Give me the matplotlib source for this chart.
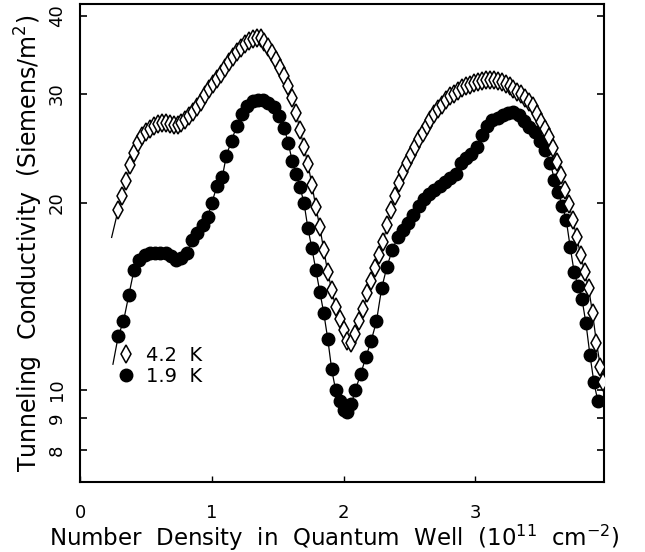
import matplotlib
matplotlib.use("Agg")
import matplotlib.pyplot as plt
from matplotlib.lines import Line2D
from matplotlib.ticker import FixedLocator, FixedFormatter, NullLocator

# ---- data: 4.2 K (open diamonds) ----
x_42 = [0.24, 0.29, 0.32, 0.35, 0.38, 0.41, 0.44, 0.47, 0.50, 0.53, 0.56, 0.59, 0.62, 0.65,
        0.68, 0.71, 0.74, 0.77, 0.80, 0.83, 0.86, 0.89, 0.92, 0.95, 0.98, 1.01, 1.04, 1.07,
        1.10, 1.13, 1.16, 1.19, 1.22, 1.25, 1.28, 1.31, 1.34, 1.37, 1.40, 1.43, 1.46, 1.49,
        1.52, 1.55, 1.58, 1.61, 1.64, 1.67, 1.70, 1.73, 1.76, 1.79, 1.82, 1.85, 1.88, 1.91,
        1.94, 1.97, 2.00, 2.03, 2.06, 2.09, 2.12, 2.15, 2.18, 2.21, 2.24, 2.27, 2.30, 2.33,
        2.36, 2.39, 2.42, 2.45, 2.48, 2.51, 2.54, 2.57, 2.60, 2.63, 2.66, 2.69, 2.72, 2.75,
        2.78, 2.81, 2.84, 2.87, 2.90, 2.93, 2.96, 2.99, 3.02, 3.05, 3.08, 3.11, 3.14, 3.17,
        3.20, 3.23, 3.26, 3.29, 3.32, 3.35, 3.38, 3.41, 3.44, 3.47, 3.50, 3.53, 3.56, 3.59,
        3.62, 3.65, 3.68, 3.71, 3.74, 3.77, 3.80, 3.83, 3.86, 3.89, 3.92, 3.95, 3.97]
y_42 = [17.6, 19.5, 20.5, 21.7, 23.0, 24.1, 25.0, 25.6, 26.0, 26.3, 26.6, 26.8, 26.9, 26.9,
        26.8, 26.7, 26.7, 26.9, 27.2, 27.6, 28.0, 28.5, 29.1, 29.8, 30.5, 31.1, 31.6, 32.2,
        33.0, 33.7, 34.4, 35.0, 35.5, 36.0, 36.4, 36.7, 36.9, 36.8, 36.3, 35.6, 34.8, 34.0,
        33.0, 32.0, 30.9, 29.5, 27.9, 26.2, 24.6, 23.1, 21.4, 19.7, 18.3, 16.8, 15.5, 14.5,
        13.6, 13.0, 12.5, 12.0, 11.9, 12.3, 12.9, 13.5, 14.3, 15.0, 15.7, 16.5, 17.3, 18.4,
        19.5, 20.5, 21.5, 22.4, 23.2, 23.9, 24.6, 25.3, 25.9, 26.6, 27.2, 27.8, 28.3, 28.8,
        29.3, 29.7, 30.0, 30.3, 30.6, 30.8, 31.0, 31.2, 31.3, 31.4, 31.5, 31.5, 31.5, 31.4,
        31.3, 31.1, 30.9, 30.5, 30.2, 29.9, 29.5, 29.1, 28.6, 27.8, 27.0, 26.3, 25.5, 24.5,
        23.3, 22.2, 21.0, 19.9, 18.8, 17.6, 16.5, 15.5, 14.6, 13.3, 11.9, 10.9, 10.3]

# ---- data: 1.9 K (filled circles) ----
x_19 = [0.25, 0.29, 0.33, 0.37, 0.41, 0.45, 0.49, 0.53, 0.57, 0.61, 0.65, 0.69, 0.73, 0.77,
        0.81, 0.85, 0.89, 0.93, 0.97, 1.00, 1.04, 1.08, 1.11, 1.15, 1.19, 1.23, 1.27, 1.31,
        1.35, 1.39, 1.43, 1.47, 1.51, 1.55, 1.58, 1.61, 1.64, 1.67, 1.70, 1.73, 1.76, 1.79,
        1.82, 1.85, 1.88, 1.91, 1.94, 1.97, 2.00, 2.03, 2.06, 2.09, 2.13, 2.17, 2.21, 2.25,
        2.29, 2.33, 2.37, 2.41, 2.45, 2.49, 2.53, 2.57, 2.61, 2.65, 2.69, 2.73, 2.77, 2.81,
        2.85, 2.89, 2.93, 2.97, 3.01, 3.05, 3.09, 3.13, 3.17, 3.21, 3.25, 3.29, 3.33, 3.37,
        3.41, 3.45, 3.49, 3.53, 3.57, 3.60, 3.63, 3.66, 3.69, 3.72, 3.75, 3.78, 3.81, 3.84,
        3.87, 3.90, 3.93]
y_19 = [11.0, 12.2, 12.9, 14.2, 15.6, 16.2, 16.5, 16.6, 16.6, 16.6, 16.6, 16.4, 16.2, 16.3,
        16.6, 17.4, 17.9, 18.4, 19.0, 20.0, 21.3, 22.0, 23.8, 25.2, 26.6, 27.8, 28.6, 29.2,
        29.3, 29.3, 29.0, 28.5, 27.6, 26.4, 25.0, 23.4, 22.3, 21.2, 20.0, 18.2, 16.9, 15.6,
        14.4, 13.3, 12.1, 10.8, 10.0, 9.6, 9.3, 9.2, 9.5, 10.0, 10.6, 11.3, 12.0, 12.9,
        14.6, 15.8, 16.8, 17.6, 18.1, 18.6, 19.1, 19.8, 20.3, 20.7, 21.0, 21.3, 21.6, 21.9,
        22.3, 23.2, 23.6, 24.0, 24.6, 25.7, 26.6, 27.2, 27.4, 27.7, 27.9, 28.0, 27.7, 27.1,
        26.5, 26.0, 25.2, 24.3, 23.2, 21.8, 20.8, 19.8, 18.8, 17.0, 15.5, 14.7, 14.0, 12.8,
        11.4, 10.3, 9.6]

series_labels = ["4.2  K", "1.9  K"]
y_ticks = [8, 9, 10, 20, 30, 40]
y_tick_labels = ["8", "9", "10", "20", "30", "40"]
x_ticks = [0, 1, 2, 3, 4]
x_tick_labels = ["0", "1", "2", "3", "4"]

plt.rcParams['font.family'] = ['DejaVu Sans']

fig = plt.figure(figsize=(6.45, 5.52), dpi=100)
ax = fig.add_axes([80 / 645, 1 - 482 / 552, 524 / 645, 478 / 552])

ax.plot(x_42, y_42, color='black', lw=0.9, marker='d', ms=9, mfc='white',
        mec='black', mew=1.1, markevery=slice(1, None), zorder=3)
ax.plot(x_19, y_19, color='black', lw=0.9, marker='o', ms=9, mfc='black',
        mec='black', markevery=slice(1, None), zorder=2)

ax.set_yscale('log')
ax.set_xlim(0, 3.977)
ax.set_ylim(7.11, 41.8)

ax.yaxis.set_major_locator(FixedLocator(y_ticks))
ax.yaxis.set_major_formatter(FixedFormatter(y_tick_labels))
ax.yaxis.set_minor_locator(NullLocator())
ax.xaxis.set_major_locator(FixedLocator(x_ticks))
ax.xaxis.set_major_formatter(FixedFormatter(x_tick_labels))

ax.tick_params(axis='y', which='both', direction='in', left=True, right=True,
               length=5, width=1.2, labelsize=13, pad=10)
for lab in ax.get_yticklabels():
    lab.set_rotation(90)
    lab.set_va('center')
ax.tick_params(axis='x', direction='in', bottom=True, top=False, length=4,
               width=1.0, labelsize=13, pad=16)

for sp in ax.spines.values():
    sp.set_linewidth(1.5)

ax.set_xlabel("Number  Density  in  Quantum  Well  (10$^{11}$  cm$^{-2}$)",
              fontsize=16.5)
ax.xaxis.set_label_coords(0.485, -0.085)
ax.set_ylabel("Tunneling  Conductivity  (Siemens/m$^2$)", fontsize=17, labelpad=2)

handles = [Line2D([], [], ls='none', marker='d', ms=9, mfc='white', mec='black', mew=1.1),
           Line2D([], [], ls='none', marker='o', ms=9, mfc='black', mec='black')]
ax.legend(handles, series_labels, loc='center left', bbox_to_anchor=(0.07, 0.243),
          frameon=False, fontsize=14, handlelength=1.0, handletextpad=0.5,
          labelspacing=0.1, borderpad=0, borderaxespad=0)

fig.savefig("out.png", dpi=100)
